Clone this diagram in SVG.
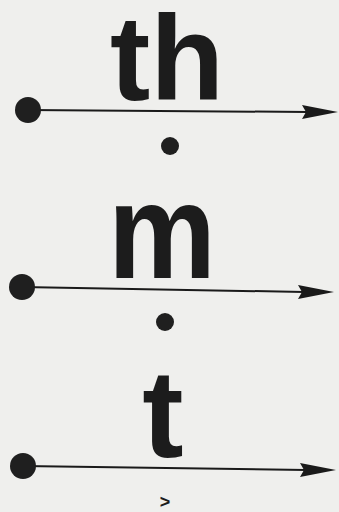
<svg xmlns="http://www.w3.org/2000/svg" width="339" height="512" viewBox="0 0 339 512">
<style>
.bg{fill:#efefed}
.ln{stroke:#1a1a1a;stroke-width:2;fill:none}
.dot{fill:#1f1f1f}
.big{font-family:"Liberation Sans",Arial,sans-serif;font-weight:bold;fill:#1c1c1c}
.ah{fill:#1a1a1a}
</style>
<rect class="bg" x="0" y="0" width="339" height="512"/>
<g id="connectors">
<line class="ln" x1="28" y1="110" x2="308" y2="112"/>
<polygon class="ah" points="338,112 302,105 306,112 302,119"/>
<line class="ln" x1="22" y1="287" x2="304" y2="292"/>
<polygon class="ah" points="334,292 298,285 302,292 298,299"/>
<line class="ln" x1="23" y1="466" x2="306" y2="470"/>
<polygon class="ah" points="336,470 300,463 304,470 300,477"/>
</g>
<g id="node-th">
<circle class="dot" cx="28" cy="110" r="13"/>
<text class="big" x="167" y="100" font-size="120" text-anchor="middle" textLength="114" lengthAdjust="spacingAndGlyphs">th</text>
<circle class="dot" cx="170" cy="146" r="9"/>
</g>
<g id="node-m">
<circle class="dot" cx="22" cy="287" r="13"/>
<text class="big" x="162" y="278" font-size="136" text-anchor="middle" textLength="108" lengthAdjust="spacingAndGlyphs">m</text>
<circle class="dot" cx="165" cy="322" r="9"/>
</g>
<g id="node-t">
<circle class="dot" cx="23" cy="466" r="13"/>
<text class="big" x="163" y="457" font-size="124" text-anchor="middle">t</text>
<text class="big" x="165" y="508" font-size="18" text-anchor="middle" font-weight="normal">&gt;</text>
</g>
</svg>
